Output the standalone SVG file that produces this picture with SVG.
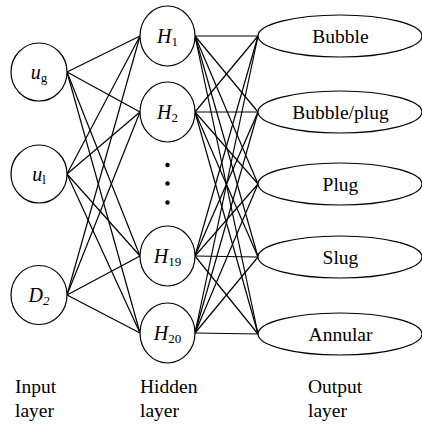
<svg xmlns="http://www.w3.org/2000/svg" width="422" height="424" viewBox="0 0 422 424" font-family="Liberation Serif">
  <!-- connectors: input -> hidden, hidden -> output -->
  <g id="connectors" stroke="#000" stroke-width="1.2" fill="none">
    <!-- from u_g -->
    <line x1="67" y1="72" x2="140" y2="36"/>
    <line x1="67" y1="72" x2="140" y2="112"/>
    <line x1="67" y1="72" x2="140" y2="256"/>
    <line x1="67" y1="72" x2="140" y2="333"/>
    <!-- from u_l -->
    <line x1="67" y1="174" x2="140" y2="36"/>
    <line x1="67" y1="174" x2="140" y2="112"/>
    <line x1="67" y1="174" x2="140" y2="256"/>
    <line x1="67" y1="174" x2="140" y2="333"/>
    <!-- from D_2 -->
    <line x1="67" y1="295" x2="140" y2="36"/>
    <line x1="67" y1="295" x2="140" y2="112"/>
    <line x1="67" y1="295" x2="140" y2="256"/>
    <line x1="67" y1="295" x2="140" y2="333"/>
    <!-- from H1 -->
    <line x1="195" y1="36" x2="258" y2="36"/>
    <line x1="195" y1="36" x2="258" y2="112"/>
    <line x1="195" y1="36" x2="258" y2="184"/>
    <line x1="195" y1="36" x2="258" y2="257"/>
    <line x1="195" y1="36" x2="258" y2="334"/>
    <!-- from H2 -->
    <line x1="195" y1="112" x2="258" y2="36"/>
    <line x1="195" y1="112" x2="258" y2="112"/>
    <line x1="195" y1="112" x2="258" y2="184"/>
    <line x1="195" y1="112" x2="258" y2="257"/>
    <line x1="195" y1="112" x2="258" y2="334"/>
    <!-- from H19 -->
    <line x1="195" y1="256" x2="258" y2="36"/>
    <line x1="195" y1="256" x2="258" y2="112"/>
    <line x1="195" y1="256" x2="258" y2="184"/>
    <line x1="195" y1="256" x2="258" y2="257"/>
    <line x1="195" y1="256" x2="258" y2="334"/>
    <!-- from H20 -->
    <line x1="195" y1="333" x2="258" y2="36"/>
    <line x1="195" y1="333" x2="258" y2="112"/>
    <line x1="195" y1="333" x2="258" y2="184"/>
    <line x1="195" y1="333" x2="258" y2="257"/>
    <line x1="195" y1="333" x2="258" y2="334"/>
  </g>

  <!-- node outlines share one look -->
  <g id="nodes" fill="#fff" stroke="#000" stroke-width="1.2">
    <!-- input layer -->
    <g id="in-ug">
      <ellipse cx="39" cy="72" rx="28" ry="29"/>
      <text stroke="none" fill="#000" style="font-family: 'Liberation Serif'; font-size: 20px; font-style: italic" text-anchor="middle" x="39" y="79">u<tspan style="font-size: 13px; font-style: normal" dy="3">g</tspan></text>
    </g>
    <g id="in-ul">
      <ellipse cx="39" cy="174" rx="28" ry="29"/>
      <text stroke="none" fill="#000" style="font-family: 'Liberation Serif'; font-size: 20px; font-style: italic" text-anchor="middle" x="39" y="181">u<tspan style="font-size: 13px; font-style: normal" dy="3">l</tspan></text>
    </g>
    <g id="in-d2">
      <ellipse cx="39" cy="295" rx="28" ry="29.5"/>
      <text stroke="none" fill="#000" style="font-family: 'Liberation Serif'; font-size: 20px; font-style: italic" text-anchor="middle" x="39" y="302">D<tspan style="font-size: 13px" dy="3">2</tspan></text>
    </g>

    <!-- hidden layer -->
    <g id="h1">
      <ellipse cx="167.5" cy="36" rx="27.5" ry="30"/>
      <text stroke="none" fill="#000" style="font-family: 'Liberation Serif'; font-size: 20px; font-style: italic" text-anchor="middle" x="167.5" y="43">H<tspan style="font-size: 13px; font-style: normal" dy="3">1</tspan></text>
    </g>
    <g id="h2">
      <ellipse cx="167.5" cy="112" rx="27.5" ry="30"/>
      <text stroke="none" fill="#000" style="font-family: 'Liberation Serif'; font-size: 20px; font-style: italic" text-anchor="middle" x="167.5" y="119">H<tspan style="font-size: 13px; font-style: normal" dy="3">2</tspan></text>
    </g>
    <g id="h-ellipsis" fill="#000" stroke="none">
      <circle cx="167.5" cy="165" r="2.2"/>
      <circle cx="167.5" cy="183.5" r="2.2"/>
      <circle cx="167.5" cy="202.5" r="2.2"/>
    </g>
    <g id="h19">
      <ellipse cx="167.5" cy="256" rx="27.5" ry="30"/>
      <text stroke="none" fill="#000" style="font-family: 'Liberation Serif'; font-size: 20px; font-style: italic" text-anchor="middle" x="167.5" y="263">H<tspan style="font-size: 13px; font-style: normal" dy="3">19</tspan></text>
    </g>
    <g id="h20">
      <ellipse cx="167.5" cy="333" rx="27.5" ry="30"/>
      <text stroke="none" fill="#000" style="font-family: 'Liberation Serif'; font-size: 20px; font-style: italic" text-anchor="middle" x="167.5" y="340">H<tspan style="font-size: 13px; font-style: normal" dy="3">20</tspan></text>
    </g>

    <!-- output layer -->
    <g id="out-bubble">
      <ellipse cx="340" cy="36" rx="82" ry="21"/>
      <text stroke="none" fill="#000" style="font-family: 'Liberation Serif'; font-size: 19.5px" text-anchor="middle" x="340.5" y="43">Bubble</text>
    </g>
    <g id="out-bubble-plug">
      <ellipse cx="340" cy="112" rx="82" ry="21"/>
      <text stroke="none" fill="#000" style="font-family: 'Liberation Serif'; font-size: 19.5px" text-anchor="middle" x="340.5" y="119">Bubble/plug</text>
    </g>
    <g id="out-plug">
      <ellipse cx="340" cy="184" rx="82" ry="21"/>
      <text stroke="none" fill="#000" style="font-family: 'Liberation Serif'; font-size: 19.5px" text-anchor="middle" x="340.5" y="191">Plug</text>
    </g>
    <g id="out-slug">
      <ellipse cx="340" cy="257" rx="82" ry="21"/>
      <text stroke="none" fill="#000" style="font-family: 'Liberation Serif'; font-size: 19.5px" text-anchor="middle" x="340.5" y="264">Slug</text>
    </g>
    <g id="out-annular">
      <ellipse cx="340" cy="334" rx="82" ry="21"/>
      <text stroke="none" fill="#000" style="font-family: 'Liberation Serif'; font-size: 19.5px" text-anchor="middle" x="340.5" y="341">Annular</text>
    </g>
  </g>

  <!-- layer captions -->
  <g id="captions" fill="#000">
    <text style="font-family: 'Liberation Serif'; font-size: 19.5px" x="15" y="393">Input</text>
    <text style="font-family: 'Liberation Serif'; font-size: 19.5px" x="15" y="417">layer</text>
    <text style="font-family: 'Liberation Serif'; font-size: 19.5px" x="140" y="393">Hidden</text>
    <text style="font-family: 'Liberation Serif'; font-size: 19.5px" x="140" y="417">layer</text>
    <text style="font-family: 'Liberation Serif'; font-size: 19.5px" x="308" y="393">Output</text>
    <text style="font-family: 'Liberation Serif'; font-size: 19.5px" x="308" y="417">layer</text>
  </g>
</svg>
